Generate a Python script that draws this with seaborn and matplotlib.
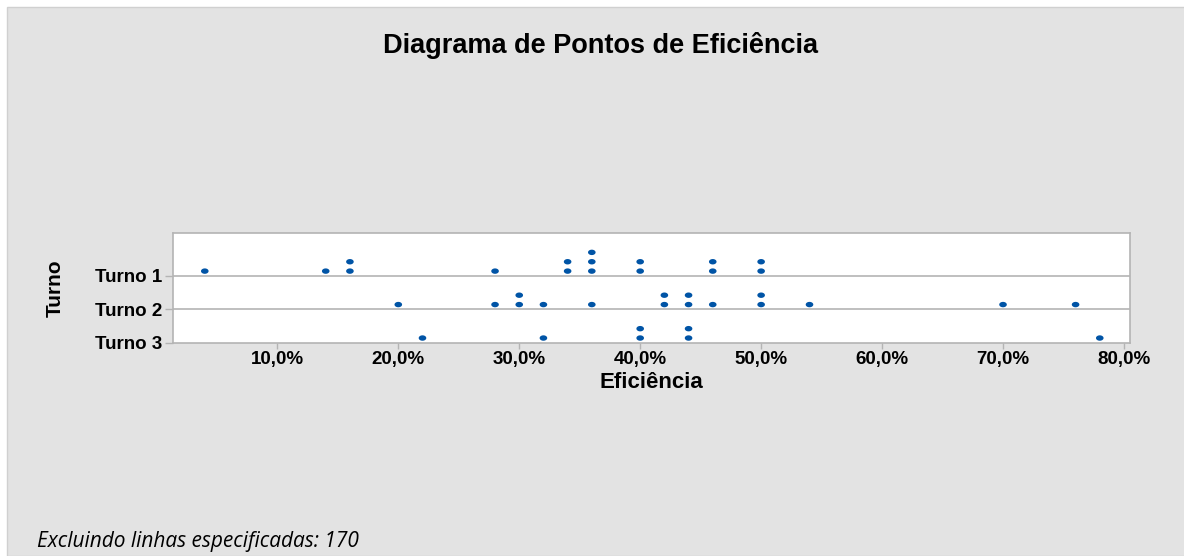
"""Dotplot of efficiency per shift (Turno)"""

import numpy as np
import pandas as pd
import matplotlib

matplotlib.use("Agg")
import matplotlib.pyplot as plt
import seaborn as sns
from matplotlib.patches import Rectangle

# Values (efficiency in %)
turno_1 = [4, 14, 16, 16, 28, 34, 34, 36, 36, 36, 40, 40, 46, 46, 50, 50]
turno_2 = [20, 28, 30, 30, 32, 36, 42, 42, 44, 44, 46, 50, 50, 54, 70, 76]
turno_3 = [22, 32, 40, 40, 44, 44, 78]
turnos = ["Turno 3", "Turno 2", "Turno 1"]
x_ticks = [10, 20, 30, 40, 50, 60, 70, 80]
x_tick_labels = ["10,0%", "20,0%", "30,0%", "40,0%", "50,0%", "60,0%", "70,0%", "80,0%"]

# Build the stacked dotplot table: repeated values stack upwards
rows = []
for pos, values in enumerate([turno_3, turno_2, turno_1]):
    seen = {}
    for v in values:
        level = seen.get(v, 0)
        seen[v] = level + 1
        rows.append({"turno": turnos[pos], "eficiencia": v, "y": pos + 0.14 + level * 0.28})
df = pd.DataFrame(rows)

sns.set_style("white")
plt.rcParams["font.family"] = ["Liberation Sans", "DejaVu Sans"]
plt.rcParams["text.color"] = "black"
plt.rcParams["axes.labelcolor"] = "black"
plt.rcParams["xtick.labelcolor"] = "black"
plt.rcParams["ytick.labelcolor"] = "black"

fig = plt.figure(figsize=(11.84, 5.56), dpi=100, facecolor="white")
fig.patches.append(
    Rectangle((7 / 1184, 0), 1, 1 - 7 / 556, transform=fig.transFigure,
              facecolor="#e3e3e3", edgecolor="#d0d0d0", zorder=-10)
)
ax = fig.add_axes([0.1464, 0.3836, 0.808, 0.1968])
ax.set_zorder(2)
ax.set_facecolor("white")

# elliptical marker, slightly wider than tall like the original
t = np.linspace(0, 2 * np.pi, 30)
ellipse = list(zip(1.4 * np.cos(t), np.sin(t)))

sns.scatterplot(
    data=df, x="eficiencia", y="y", ax=ax, color="#0054a6",
    marker=ellipse, s=30, edgecolor="none", linewidth=0, zorder=3, legend=False,
)

for yy in [1, 2]:
    ax.axhline(yy, color="#b4b4b4", linewidth=1.2, zorder=1)

ax.set_xlim(1.4, 80.5)
ax.set_ylim(0, 3.27)
ax.set_xticks(x_ticks)
ax.set_xticklabels(x_tick_labels, fontsize=13.5, fontweight="bold")
ax.set_yticks([0, 1, 2])
ax.set_yticklabels(turnos, fontsize=13.5, fontweight="bold")
ax.tick_params(axis="x", length=4, width=1, color="#b4b4b4", pad=2, direction="out", bottom=True)
ax.tick_params(axis="y", length=6, width=1, color="#b4b4b4", pad=2, direction="out", left=True)
for spine in ax.spines.values():
    spine.set_color("#b4b4b4")
    spine.set_linewidth(1.2)

ax.set_xlabel("Eficiência", fontsize=16, fontweight="bold", labelpad=3)
ax.set_ylabel("Turno", fontsize=15, fontweight="bold", labelpad=22)

fig.text(0.5076, 0.918, "Diagrama de Pontos de Eficiência", ha="center", va="center",
         fontsize=19.5, fontweight="bold")
fig.text(37 / 1184, 1 - 541 / 556, "Excluindo linhas especificadas: 170", ha="left", va="center",
         fontsize=15, style="italic", family=["Open Sans", "DejaVu Sans"])

fig.savefig("out.png", dpi=100, facecolor=fig.get_facecolor())
